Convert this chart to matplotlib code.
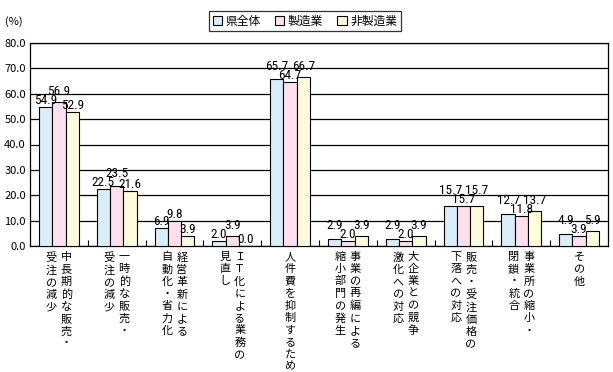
import numpy as np
import matplotlib
matplotlib.use("Agg")
import matplotlib.pyplot as plt
from matplotlib.patches import Patch
from matplotlib import font_manager

plt.rcParams['font.family'] = ['Noto Sans CJK JP', 'DejaVu Sans']

# 項目（縦書き、右の列から）
categories = [
    ["中長期的な販売・", "受注の減少"],
    ["一時的な販売・", "受注の減少"],
    ["経営革新による", "自動化・省力化"],
    ["ＩＴ化による業務の", "見直し"],
    ["人件費を抑制するため"],
    ["事業の再編による", "縮小部門の発生"],
    ["大企業との競争", "激化への対応"],
    ["販売・受注価格の", "下落への対応"],
    ["事業所の縮小・", "閉鎖・統合"],
    ["その他"],
]
series_names = ["県全体", "製造業", "非製造業"]
all_pref = [54.9, 22.5, 6.9, 2.0, 65.7, 2.9, 2.9, 15.7, 12.7, 4.9]
manuf = [56.9, 23.5, 9.8, 3.9, 64.7, 2.0, 2.0, 15.7, 11.8, 3.9]
non_manuf = [52.9, 21.6, 3.9, 0.0, 66.7, 3.9, 3.9, 15.7, 13.7, 5.9]
yticks = np.arange(0, 81, 10)

colors = ["#D9EEFA", "#FFE0EC", "#FFFCDC"]

# 細めの数字用フォント（あれば）
installed = {f.name for f in font_manager.fontManager.ttflist}
num_font = 'Noto Sans CJK JP'
for cand in ['Liberation Sans Narrow', 'Roboto Condensed', 'Open Sans Condensed', 'Noto Sans Condensed']:
    if cand in installed:
        num_font = cand
        break

fig = plt.figure(figsize=(6.13, 3.72), dpi=100)
ax = fig.add_axes([30 / 613, 1 - 246 / 372, 578 / 613, 203 / 372])
px = 203 / 80  # 1単位あたりのピクセル

x = np.arange(len(categories))
w = 0.23
series = [all_pref, manuf, non_manuf]
for k, vals in enumerate(series):
    ax.bar(x + (k - 1) * w, vals, w, color=colors[k], edgecolor="black", linewidth=0.8, zorder=3)

# データラベル（重なりを少し避ける）
for i in range(len(categories)):
    v = [s[i] for s in series]
    y = [vv * px + 3 for vv in v]
    for o in (0, 2):
        if abs(y[o] - y[1]) < 7:
            if v[1] > v[o] + 0.5:
                y[1] = max(y[1], y[o] + 9)
            else:
                y[o] = max(y[o], y[1] + 9)
    for k in range(3):
        ax.annotate(f"{v[k]:.1f}", xy=(i + (k - 1) * w, v[k]), xytext=(0, y[k] - v[k] * px),
                    textcoords="offset pixels", ha="center", va="baseline",
                    fontsize=9.5, family=num_font, zorder=4)

ax.set_xlim(-0.5, len(categories) - 0.5)
ax.set_ylim(0, 80)
ax.set_yticks(yticks)
ax.set_yticklabels([f"{t:.1f}" for t in yticks], fontsize=8)
ax.tick_params(axis="y", length=0, pad=3)
ax.set_xticks(np.arange(len(categories) - 1) + 0.5)
ax.set_xticklabels([])
ax.tick_params(axis="x", direction="in", length=4, width=0.8)
ax.yaxis.grid(True, color="black", linewidth=0.9, zorder=0)
for s in ax.spines.values():
    s.set_linewidth(0.9)

# 縦書きラベル
spacing = 15
for i, cols in enumerate(categories):
    n = len(cols)
    for j, col in enumerate(cols):
        dx = ((n - 1) / 2 - j) * spacing
        ax.annotate("\n".join(col), xy=(i, 0), xytext=(dx, -6),
                    textcoords="offset pixels", ha="center", va="top",
                    fontsize=8, linespacing=1.27, annotation_clip=False)

fig.text(5 / 613, 1 - 22 / 372, "(%)", fontsize=8, va="center")

handles = [Patch(facecolor=c, edgecolor="black", linewidth=0.8) for c in colors]
leg = fig.legend(handles, series_names, loc="center", bbox_to_anchor=(305 / 613, 1 - 21 / 372),
                 ncol=3, fontsize=8.5, frameon=True, fancybox=False, handlelength=0.8,
                 handleheight=0.8, handletextpad=0.3, columnspacing=1.2,
                 borderpad=0.3, borderaxespad=0)
leg.get_frame().set_edgecolor("black")
leg.get_frame().set_linewidth(0.9)

fig.savefig("out.png", dpi=100)
